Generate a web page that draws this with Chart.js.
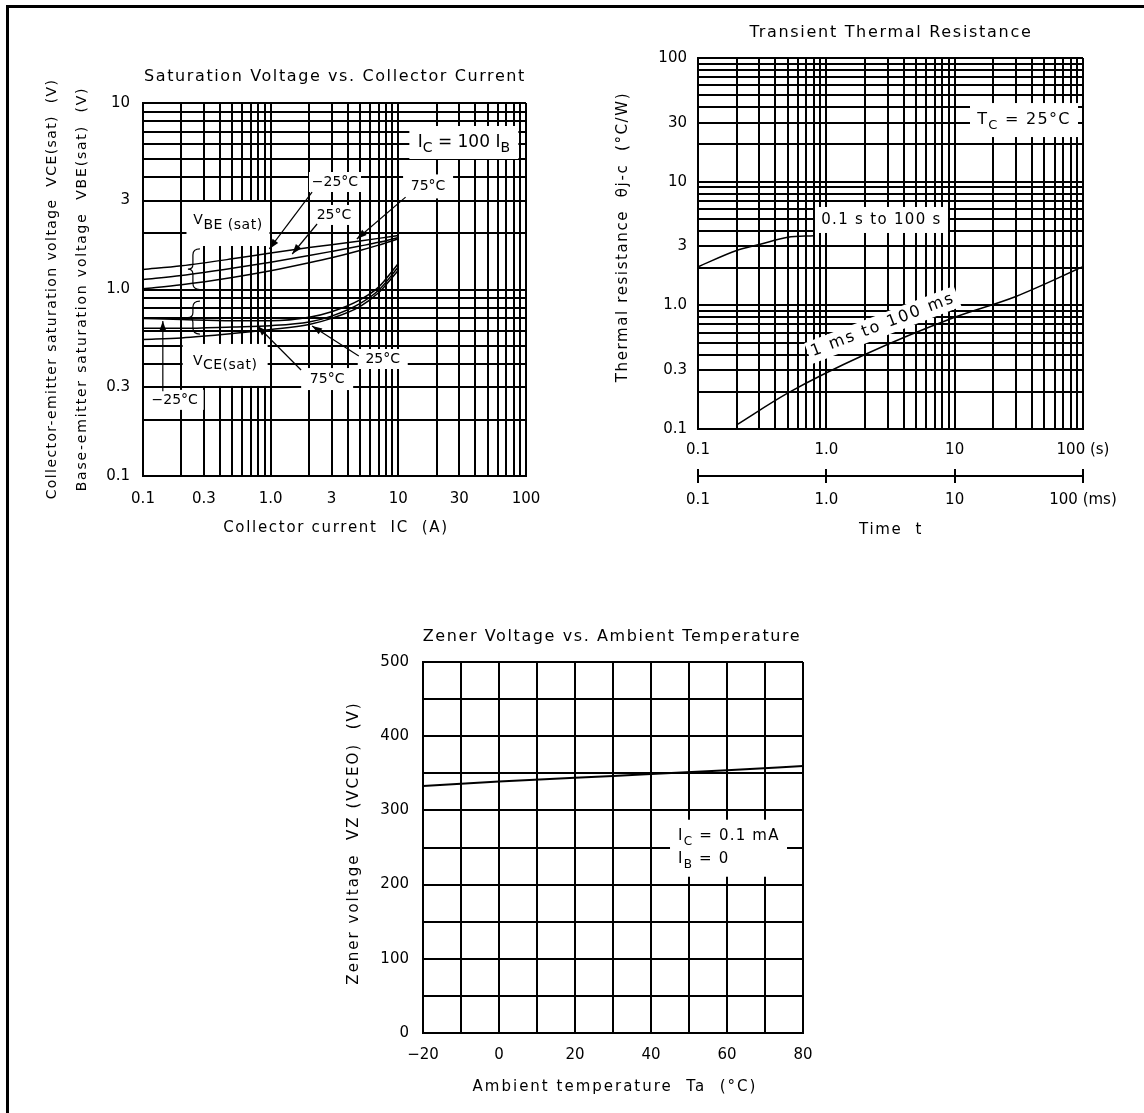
<!DOCTYPE html>
<html>
<head>
<meta charset="utf-8">
<script src="https://cdn.jsdelivr.net/npm/chart.js@4.4.1/dist/chart.umd.min.js"></script>
<style>
  html, body { margin: 0; padding: 0; background: #fff; }
  #page { position: relative; width: 1144px; height: 1113px; overflow: hidden; }
  #frame { position: absolute; left: 6px; top: 5px; width: 1160px; height: 1130px;
           border-top: 3px solid #000; border-left: 3px solid #000; }
  canvas { position: absolute; }
</style>
</head>
<body>
<div id="page">
  <div id="frame"></div>
  <canvas id="satChart" width="560" height="520" style="left:0;top:40px;width:560px;height:520px"></canvas>
  <canvas id="thermalChart" width="564" height="560" style="left:580px;top:0;width:564px;height:560px"></canvas>
  <canvas id="zenerChart" width="500" height="500" style="left:330px;top:600px;width:500px;height:500px"></canvas>
</div>
<script>
// ---- saturation voltage vs collector current (IC = 100 IB) ----
const satCurrentA = [0.1, 0.2, 0.5, 1, 2, 3, 5, 7, 10];
const vbeSatM25 = [1.28, 1.34, 1.46, 1.57, 1.68, 1.74, 1.82, 1.88, 1.95];
const vbeSat25  = [1.13, 1.19, 1.30, 1.40, 1.52, 1.60, 1.71, 1.79, 1.90];
const vbeSat75  = [1.01, 1.06, 1.16, 1.26, 1.39, 1.48, 1.62, 1.73, 1.87];
const vceSatM25 = [0.70, 0.69, 0.68, 0.68, 0.71, 0.76, 0.88, 1.03, 1.38];
const vceSat25  = [0.62, 0.62, 0.63, 0.64, 0.67, 0.72, 0.84, 0.99, 1.32];
const vceSat75  = [0.54, 0.55, 0.58, 0.61, 0.65, 0.70, 0.81, 0.96, 1.27];
const satXTickValues = [0.1, 0.3, 1, 3, 10, 30, 100];
const satXTickLabels = ['0.1', '0.3', '1.0', '3', '10', '30', '100'];
const satYTickValues = [0.1, 0.3, 1, 3, 10];
const satYTickLabels = ['0.1', '0.3', '1.0', '3', '10'];

// ---- transient thermal resistance ----
const pulseTimeS  = [0.1, 0.2, 0.3, 0.5, 0.8];
const thermalResS = [2.05, 2.78, 3.1, 3.55, 3.65];
const pulseTimeMs  = [0.2, 0.5, 2, 10, 30, 100];
const thermalResMs = [0.108, 0.195, 0.40, 0.80, 1.18, 2.05];
const timeTickValues = [0.1, 1, 10, 100];
const timeTickLabelsS  = ['0.1', '1.0', '10', '100 (s)'];
const timeTickLabelsMs = ['0.1', '1.0', '10', '100 (ms)'];
const resTickValues = [0.1, 0.3, 1, 3, 10, 30, 100];
const resTickLabels = ['0.1', '0.3', '1.0', '3', '10', '30', '100'];

// ---- zener voltage vs ambient temperature ----
const ambientTempC  = [-20, 0, 20, 40, 60, 80];
const zenerVoltageV = [333, 339, 344, 349, 354, 360];
const tempTickValues = [-20, 0, 20, 40, 60, 80];
const tempTickLabels = ['\u221220', '0', '20', '40', '60', '80'];
const zenerTickValues = [0, 100, 200, 300, 400, 500];
const zenerTickLabels = ['0', '100', '200', '300', '400', '500'];

const FONT = "'DejaVu Sans', 'Liberation Sans', sans-serif";
Chart.defaults.font.family = FONT;
Chart.defaults.font.size = 15;
Chart.defaults.color = '#000';

function decadeTicks(min, max) {
  const out = [];
  for (let e = Math.round(Math.log10(min)); e < Math.round(Math.log10(max)); e++) {
    for (let m = 1; m < 10; m++) out.push(+(m * Math.pow(10, e)).toPrecision(6));
  }
  out.push(max);
  return out;
}

function labelFor(values, labels) {
  return v => {
    const i = values.findIndex(t => Math.abs(t - v) <= Math.abs(t) * 1e-6 + 1e-9);
    return i < 0 ? '' : labels[i];
  };
}

function axis(o) {
  return {
    type: o.type || 'logarithmic',
    position: o.position,
    min: o.min, max: o.max,
    weight: o.weight || 0,
    afterBuildTicks: o.type === 'linear' ? undefined
      : s => { s.ticks = (o.gridValues || decadeTicks(o.min, o.max)).map(value => ({ value })); },
    afterFit: s => { if (s.isHorizontal()) s.height = o.size; else s.width = o.size; },
    grid: { color: '#000', lineWidth: 2, drawTicks: false, drawOnChartArea: o.grid !== false },
    border: { color: '#000', width: 2 },
    ticks: { autoSkip: false, maxRotation: 0, padding: o.tickPad, stepSize: o.step,
             font: { size: o.fontSize || 15 }, callback: labelFor(o.values, o.labels) },
    title: { display: false }
  };
}

function curve(xs, ys, width) {
  return {
    data: xs.map((x, i) => ({ x, y: ys[i] })),
    showLine: true, pointRadius: 0, borderColor: '#000', borderWidth: width || 1.5,
    cubicInterpolationMode: 'monotone'
  };
}

function drawParts(ctx, parts, x, y, size, align, subScale) {
  const main = size + 'px ' + FONT, sub = Math.round(size * (subScale || 0.8)) + 'px ' + FONT;
  let total = 0;
  parts.forEach(([t, s]) => { ctx.font = s ? sub : main; total += ctx.measureText(t).width; });
  let cx = align === 'left' ? x : x - total / 2;
  ctx.textAlign = 'left';
  ctx.textBaseline = 'middle';
  parts.forEach(([t, s]) => {
    ctx.font = s ? sub : main;
    ctx.fillText(t, cx, y + (s ? size * 0.35 : 0));
    cx += ctx.measureText(t).width;
  });
}

const notesPlugin = {
  id: 'notes',
  beforeDatasetsDraw(chart, args, opts) {
    const { ctx, scales } = chart;
    (opts.boxes || []).forEach(b => {
      ctx.save();
      ctx.translate(scales.x.getPixelForValue(b.x), scales.y.getPixelForValue(b.y));
      if (b.rot) ctx.rotate(b.rot * Math.PI / 180);
      ctx.fillStyle = '#fff';
      ctx.fillRect(-b.w / 2, -b.h / 2, b.w, b.h);
      ctx.fillStyle = '#000';
      ctx.letterSpacing = (b.spacing || 0) + 'px';
      b.lines.forEach(([dy, parts]) =>
        drawParts(ctx, parts, b.align === 'left' ? -b.w / 2 + 8 : 0, dy, b.size || 15, b.align, b.subScale));
      ctx.restore();
    });
  },
  afterDatasetsDraw(chart, args, opts) {
    const { ctx, scales } = chart;
    const px = v => scales.x.getPixelForValue(v), py = v => scales.y.getPixelForValue(v);
    ctx.save();
    ctx.strokeStyle = '#000';
    ctx.fillStyle = '#000';
    ctx.lineWidth = 1.2;
    (opts.leaders || []).forEach(l => {
      const x1 = px(l.from[0]), y1 = py(l.from[1]), x2 = px(l.to[0]), y2 = py(l.to[1]);
      ctx.beginPath(); ctx.moveTo(x1, y1); ctx.lineTo(x2, y2); ctx.stroke();
      const a = Math.atan2(y2 - y1, x2 - x1);
      ctx.beginPath();
      ctx.moveTo(x2, y2);
      ctx.lineTo(x2 - 10 * Math.cos(a) + 3.5 * Math.sin(a), y2 - 10 * Math.sin(a) - 3.5 * Math.cos(a));
      ctx.lineTo(x2 - 10 * Math.cos(a) - 3.5 * Math.sin(a), y2 - 10 * Math.sin(a) + 3.5 * Math.cos(a));
      ctx.closePath(); ctx.fill();
    });
    (opts.braces || []).forEach(b => {
      const x = px(b.x), y1 = py(b.top), y2 = py(b.bottom), m = (y1 + y2) / 2;
      ctx.beginPath();
      ctx.moveTo(x + 7, y1);
      ctx.quadraticCurveTo(x, y1, x, y1 + 6);
      ctx.lineTo(x, m - 5);
      ctx.quadraticCurveTo(x, m, x - 5, m);
      ctx.quadraticCurveTo(x, m, x, m + 5);
      ctx.lineTo(x, y2 - 6);
      ctx.quadraticCurveTo(x, y2, x + 7, y2);
      ctx.stroke();
    });
    ctx.restore();
  },
  afterDraw(chart, args, opts) {
    const { ctx } = chart;
    ctx.save();
    if (opts.crossTicks) {
      const s = chart.scales[opts.crossTicks];
      ctx.strokeStyle = '#000';
      ctx.lineWidth = 2;
      s.ticks.forEach(t => {
        const x = Math.round(s.getPixelForValue(t.value));
        ctx.beginPath(); ctx.moveTo(x, s.top - 7); ctx.lineTo(x, s.top + 7); ctx.stroke();
      });
    }
    // chart and axis titles (wide-spaced like the scanned datasheet lettering)
    (opts.titles || []).forEach(t => {
      ctx.save();
      ctx.translate(t.x, t.y);
      if (t.rot) ctx.rotate(t.rot * Math.PI / 180);
      ctx.font = t.size + 'px ' + FONT;
      ctx.letterSpacing = t.spacing + 'px';
      ctx.fillStyle = '#000';
      ctx.textAlign = 'center';
      ctx.textBaseline = 'middle';
      ctx.fillText(t.text, 0, 0);
      ctx.restore();
    });
    ctx.restore();
  }
};

function baseOptions(padTop, padRight, notes, scales) {
  return {
    responsive: false, devicePixelRatio: 1, animation: false,
    layout: { padding: { top: padTop, right: padRight, bottom: 0, left: 0 } },
    plugins: { legend: { display: false }, tooltip: { enabled: false }, title: { display: false }, notes },
    scales
  };
}

const degC = '\u00b0C';

new Chart(document.getElementById('satChart'), {
  type: 'scatter',
  data: { datasets: [
    curve(satCurrentA, vbeSatM25), curve(satCurrentA, vbeSat25), curve(satCurrentA, vbeSat75),
    curve(satCurrentA, vceSatM25), curve(satCurrentA, vceSat25), curve(satCurrentA, vceSat75)
  ] },
  options: baseOptions(63, 34, {
    titles: [
      { text: 'Saturation Voltage vs. Collector Current', x: 335, y: 36.5, size: 16, spacing: 1.6 },
      { text: 'Collector current  IC  (A)', x: 336, y: 488, size: 15, spacing: 1.7 },
      { text: 'Collector-emitter saturation voltage  VCE(sat)  (V)', x: 52, y: 249, rot: -90, size: 14, spacing: 1.4 },
      { text: 'Base-emitter saturation voltage  VBE(sat)  (V)', x: 82, y: 249, rot: -90, size: 14, spacing: 1.8 }
    ],
    boxes: [
      { x: 32.6, y: 6.14, w: 109, h: 33, size: 17, lines: [[0, [['I'], ['C', 1], [' = 100 '], ['I'], ['B', 1]]]] },
      { x: 3.19, y: 3.77, w: 52, h: 20, size: 14, lines: [[0, [['\u221225' + degC]]]] },
      { x: 3.13, y: 2.51, w: 46, h: 20, size: 14, lines: [[0, [['25' + degC]]]] },
      { x: 17.1, y: 3.57, w: 50, h: 24, size: 14, lines: [[0, [['75' + degC]]]] },
      { x: 0.463, y: 2.245, w: 83, h: 44, size: 14, subScale: 1, spacing: 0.5, lines: [[-4, [['V'], ['BE (sat)', 1]]]] },
      { x: 0.44, y: 0.394, w: 85, h: 42, size: 14, subScale: 1, spacing: 0.5, lines: [[-4, [['V'], ['CE(sat)', 1]]]] },
      { x: 0.177, y: 0.256, w: 58, h: 20, size: 14, lines: [[0, [['\u221225' + degC]]]] },
      { x: 2.77, y: 0.331, w: 52, h: 22, size: 14, lines: [[0, [['75' + degC]]]] },
      { x: 7.55, y: 0.424, w: 50, h: 20, size: 14, lines: [[0, [['25' + degC]]]] }
    ],
    leaders: [
      { from: [2.11, 3.33], to: [0.977, 1.65] },
      { from: [2.31, 2.245], to: [1.475, 1.55] },
      { from: [11.4, 3.13], to: [4.73, 1.866] },
      { from: [0.143, 0.285], to: [0.143, 0.678] },
      { from: [1.73, 0.37], to: [0.787, 0.637] },
      { from: [4.9, 0.44], to: [2.11, 0.637] }
    ],
    braces: [
      { x: 0.246, top: 1.65, bottom: 1.0 },
      { x: 0.246, top: 0.867, bottom: 0.577 }
    ]
  }, {
    x: axis({ position: 'bottom', min: 0.1, max: 100, values: satXTickValues, labels: satXTickLabels,
              size: 84, tickPad: 14 }),
    y: axis({ position: 'left', min: 0.1, max: 10, values: satYTickValues, labels: satYTickLabels,
              size: 143, tickPad: 13 })
  }),
  plugins: [notesPlugin]
});

new Chart(document.getElementById('thermalChart'), {
  type: 'scatter',
  data: { datasets: [curve(pulseTimeS, thermalResS), curve(pulseTimeMs, thermalResMs)] },
  options: baseOptions(58, 61, {
    titles: [
      { text: 'Transient Thermal Resistance', x: 311, y: 33, size: 16, spacing: 1.7 },
      { text: 'Time  t', x: 311, y: 530, size: 15, spacing: 1.7 },
      { text: 'Thermal resistance  \u03b8j-c  (\u00b0C/W)', x: 43, y: 237, rot: -90, size: 15, spacing: 1.6 }
    ],
    boxes: [
      { x: 34.7, y: 31.5, w: 108, h: 34, size: 16, spacing: 1.3, lines: [[0, [['T'], ['C', 1], [' = 25' + degC]]]] },
      { x: 2.69, y: 4.9, w: 133, h: 26, size: 15, spacing: 1.3, lines: [[0, [['0.1 s to 100 s']]]] },
      { x: 2.76, y: 0.694, w: 160, h: 22, rot: -21, size: 16, spacing: 2, lines: [[0, [['1 ms to 100 ms']]]] }
    ],
    crossTicks: 'x2'
  }, {
    x: axis({ position: 'bottom', min: 0.1, max: 100, values: timeTickValues, labels: timeTickLabelsS,
              size: 47, tickPad: 12 }),
    x2: axis({ position: 'bottom', min: 0.1, max: 100, weight: 1, grid: false, gridValues: timeTickValues,
               values: timeTickValues, labels: timeTickLabelsMs, size: 84, tickPad: 15 }),
    y: axis({ position: 'left', min: 0.1, max: 100, values: resTickValues, labels: resTickLabels,
              size: 118, tickPad: 11 })
  }),
  plugins: [notesPlugin]
});

new Chart(document.getElementById('zenerChart'), {
  type: 'scatter',
  data: { datasets: [curve(ambientTempC, zenerVoltageV, 2)] },
  options: baseOptions(62, 27, {
    titles: [
      { text: 'Zener Voltage vs. Ambient Temperature', x: 282, y: 37, size: 16, spacing: 1.6 },
      { text: 'Ambient temperature  Ta  (\u00b0C)', x: 285, y: 487, size: 15, spacing: 2 },
      { text: 'Zener voltage  VZ (VCEO)  (V)', x: 24, y: 243, rot: -90, size: 15, spacing: 2 }
    ],
    boxes: [
      { x: 60.4, y: 249, w: 117, h: 57, size: 15, spacing: 1.2, align: 'left', lines: [
        [-12, [['I'], ['C', 1], [' = 0.1 mA']]],
        [11, [['I'], ['B', 1], [' = 0']]]
      ] }
    ]
  }, {
    x: axis({ type: 'linear', position: 'bottom', min: -20, max: 80, step: 10,
              values: tempTickValues, labels: tempTickLabels, size: 67, tickPad: 13 }),
    y: axis({ type: 'linear', position: 'left', min: 0, max: 500, step: 50,
              values: zenerTickValues, labels: zenerTickLabels, size: 93, tickPad: 14 })
  }),
  plugins: [notesPlugin]
});
</script>
</body>
</html>
